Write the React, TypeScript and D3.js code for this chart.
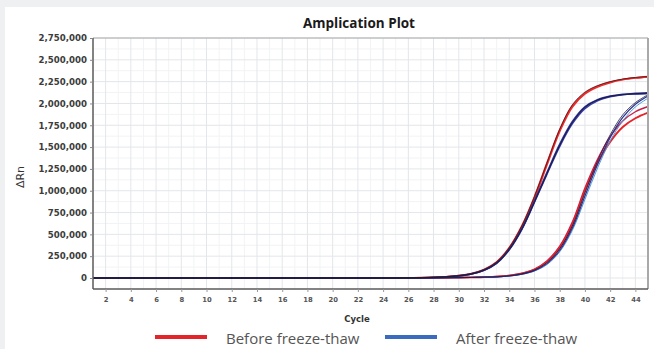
import * as d3 from "d3";
import React, { useEffect, useRef } from "react";

// cycles 1..45
const cycles = d3.range(1, 46);

// ΔRn values per cycle
const earlyBeforeA = [0,0,0,0,0,0,0,0,0,0,0,0,0,0,0,0,0,0,0,0,0,0,0,0,0,
    1000, 3000, 7000, 14000, 26000, 48000, 92000, 178000, 335000, 580000, 910000, 1300000, 1680000, 1960000, 2110000, 2190000, 2240000, 2272000, 2292000, 2306000];
const earlyBeforeB = [0,0,0,0,0,0,0,0,0,0,0,0,0,0,0,0,0,0,0,0,0,0,0,0,0,
    1000, 3000, 8000, 15000, 28000, 52000, 98000, 186000, 350000, 600000, 935000, 1325000, 1700000, 1975000, 2120000, 2198000, 2246000, 2276000, 2294000, 2304000];
const earlyDarkA = [0,0,0,0,0,0,0,0,0,0,0,0,0,0,0,0,0,0,0,0,0,0,0,0,0,
    1000, 3000, 7000, 14000, 27000, 50000, 96000, 184000, 348000, 598000, 932000, 1322000, 1705000, 1985000, 2130000, 2205000, 2250000, 2280000, 2298000, 2310000];
const earlyAfterA = [0,0,0,0,0,0,0,0,0,0,0,0,0,0,0,0,0,0,0,0,0,0,0,0,0,
    1000, 2000, 6000, 13000, 25000, 47000, 90000, 172000, 328000, 565000, 880000, 1210000, 1530000, 1790000, 1960000, 2042000, 2083000, 2104000, 2114000, 2120000];
const earlyAfterB = [0,0,0,0,0,0,0,0,0,0,0,0,0,0,0,0,0,0,0,0,0,0,0,0,0,
    1000, 2000, 6000, 12000, 24000, 45000, 88000, 168000, 322000, 555000, 865000, 1190000, 1505000, 1765000, 1940000, 2030000, 2075000, 2098000, 2108000, 2114000];
const earlyDarkB = [0,0,0,0,0,0,0,0,0,0,0,0,0,0,0,0,0,0,0,0,0,0,0,0,0,
    1000, 3000, 7000, 13000, 25000, 46000, 89000, 170000, 325000, 560000, 872000, 1200000, 1520000, 1780000, 1955000, 2040000, 2082000, 2102000, 2112000, 2118000];
const lateBeforeA = [0,0,0,0,0,0,0,0,0,0,0,0,0,0,0,0,0,0,0,0,0,0,0,0,0,
    0, 1000, 2000, 3000, 5000, 7000, 10000, 15000, 27000, 50000, 95000, 185000, 345000, 610000, 1000000, 1320000, 1560000, 1730000, 1830000, 1895000];
const lateBeforeB = [0,0,0,0,0,0,0,0,0,0,0,0,0,0,0,0,0,0,0,0,0,0,0,0,0,
    0, 1000, 2000, 3000, 5000, 7000, 11000, 17000, 30000, 55000, 102000, 198000, 365000, 640000, 1030000, 1360000, 1620000, 1800000, 1905000, 1965000];
const lateAfterA = [0,0,0,0,0,0,0,0,0,0,0,0,0,0,0,0,0,0,0,0,0,0,0,0,0,
    0, 1000, 2000, 3000, 4000, 6000, 9000, 13000, 23000, 44000, 85000, 165000, 315000, 570000, 940000, 1300000, 1610000, 1840000, 1990000, 2085000];
const lateAfterB = [0,0,0,0,0,0,0,0,0,0,0,0,0,0,0,0,0,0,0,0,0,0,0,0,0,
    0, 1000, 2000, 3000, 4000, 6000, 9000, 13000, 22000, 42000, 80000, 155000, 300000, 545000, 900000, 1260000, 1570000, 1800000, 1960000, 2060000];
const lateDark = [0,0,0,0,0,0,0,0,0,0,0,0,0,0,0,0,0,0,0,0,0,0,0,0,0,
    0, 1000, 2000, 3000, 5000, 7000, 10000, 15000, 26000, 48000, 92000, 178000, 335000, 595000, 975000, 1340000, 1640000, 1870000, 2010000, 2100000];

const yTicks = [0, 250000, 500000, 750000, 1000000, 1250000, 1500000, 1750000, 2000000, 2250000, 2500000, 2750000];
const xTicks = d3.range(2, 45, 2);
const legendLabels = ["Before freeze-thaw", "After freeze-thaw"];

const RED = "#e5232a";
const NAVY = "#2d3193";

const App = () => {
    const svgRef = useRef<SVGSVGElement | null>(null);

    useEffect(() => {
        const width = 654;
        const height = 349;
        const left = 93, right = 648, top = 38, bottom = 289;

        const svg = d3.select(svgRef.current);
        svg.selectAll("*").remove();

        // page frame
        svg.append("rect").attr("width", width).attr("height", height).attr("fill", "#eef0f2");
        svg.append("rect").attr("x", 5).attr("y", 7).attr("width", width - 5).attr("height", height - 7).attr("fill", "#ffffff");

        const x = d3.scaleLinear().domain([1, 45]).range([left, right]);
        const y = d3.scaleLinear().domain([-126000, 2750000]).range([bottom, top]);

        // grid
        const grid = svg.append("g");
        grid.selectAll(".vminor")
            .data(d3.range(3, 45, 2))
            .enter().append("line")
            .attr("x1", d => x(d)).attr("x2", d => x(d))
            .attr("y1", top).attr("y2", bottom)
            .attr("stroke", "#f2f3f5").attr("stroke-width", 1);
        grid.selectAll(".hminor")
            .data(yTicks.map(d => d + 125000).filter(d => d < 2750000))
            .enter().append("line")
            .attr("x1", left).attr("x2", right)
            .attr("y1", d => y(d)).attr("y2", d => y(d))
            .attr("stroke", "#f2f3f5").attr("stroke-width", 1);
        grid.selectAll(".vmajor")
            .data(xTicks)
            .enter().append("line")
            .attr("x1", d => x(d)).attr("x2", d => x(d))
            .attr("y1", top).attr("y2", bottom)
            .attr("stroke", "#e3e6ea").attr("stroke-width", 1);
        grid.selectAll(".hmajor")
            .data(yTicks)
            .enter().append("line")
            .attr("x1", left).attr("x2", right)
            .attr("y1", d => y(d)).attr("y2", d => y(d))
            .attr("stroke", "#e3e6ea").attr("stroke-width", 1);

        // curves: reds first, blues over them, thin dark traces last
        const series = [
            { values: lateBeforeB, color: "#c8204a", w: 1.4 },
            { values: lateBeforeA, color: RED, w: 1.9 },
            { values: earlyBeforeB, color: RED, w: 1.5 },
            { values: earlyBeforeA, color: "#ee2b2b", w: 1.8 },
            { values: lateAfterB, color: "#4f9bd8", w: 1 },
            { values: lateAfterA, color: NAVY, w: 1.2 },
            { values: earlyAfterB, color: "#3a3fa8", w: 1.4 },
            { values: earlyAfterA, color: NAVY, w: 1.8 },
            { values: lateDark, color: "#1d1d3a", w: 0.8 },
            { values: earlyDarkB, color: "#151530", w: 0.8 },
            { values: earlyDarkA, color: "#2a1a1a", w: 0.7 },
        ];

        const line = d3.line<number>()
            .x((_, i) => x(cycles[i]))
            .y(d => y(d))
            .curve(d3.curveCatmullRom.alpha(0.5));

        svg.append("g")
            .selectAll("path")
            .data(series)
            .enter().append("path")
            .attr("d", d => line(d.values))
            .attr("fill", "none")
            .attr("stroke", d => d.color)
            .attr("stroke-width", d => d.w);

        // frame
        svg.append("line").attr("x1", left).attr("x2", right).attr("y1", top).attr("y2", top)
            .attr("stroke", "#a9a9a9").attr("stroke-width", 1);
        svg.append("line").attr("x1", right).attr("x2", right).attr("y1", top).attr("y2", bottom)
            .attr("stroke", "#a9a9a9").attr("stroke-width", 2);

        // y axis
        const yAxis = svg.append("g").attr("transform", `translate(${left},0)`)
            .call(d3.axisLeft(y).tickValues(yTicks).tickSize(3).tickPadding(3).tickFormat(d3.format(",")));
        yAxis.select(".domain").attr("stroke", "#5a5a5a").attr("stroke-width", 1.5)
            .attr("d", `M0,${top}V${bottom}`);
        yAxis.selectAll(".tick line").attr("stroke", "#888");
        yAxis.selectAll(".tick text")
            .attr("font-family", "DejaVu Sans")
            .attr("font-weight", "bold")
            .attr("font-size", 8.6)
            .attr("fill", "#3c3c3c");

        // x axis
        const xAxis = svg.append("g").attr("transform", `translate(0,${bottom})`)
            .call(d3.axisBottom(x).tickValues(xTicks).tickSize(3).tickPadding(5).tickFormat(d3.format("d")));
        xAxis.select(".domain").attr("stroke", "#5a5a5a").attr("stroke-width", 1.5)
            .attr("d", `M${left},0H${right}`);
        xAxis.selectAll(".tick line").attr("stroke", "#999");
        xAxis.selectAll(".tick text")
            .attr("font-family", "DejaVu Sans")
            .attr("font-weight", "bold")
            .attr("font-size", 6.8)
            .attr("fill", "#555");

        // titles
        svg.append("text").attr("x", 359).attr("y", 28).attr("text-anchor", "middle")
            .attr("font-family", "Open Sans").attr("font-weight", "bold").attr("font-size", 13.5)
            .attr("fill", "#1a1a1a").text("Amplication Plot");
        svg.append("text").attr("x", 357).attr("y", 322).attr("text-anchor", "middle")
            .attr("font-family", "DejaVu Sans").attr("font-weight", "bold").attr("font-size", 8.5)
            .attr("fill", "#333").text("Cycle");
        svg.append("text").attr("transform", "translate(24,177) rotate(-90)").attr("text-anchor", "middle")
            .attr("font-family", "DejaVu Sans").attr("font-size", 11)
            .attr("fill", "#333").text("ΔRn");

        // legend
        const legend = svg.append("g");
        const legendX = [155, 385];
        const legendColors = [RED, "#3a6bbf"];
        legendLabels.forEach((label, i) => {
            legend.append("line")
                .attr("x1", legendX[i]).attr("x2", legendX[i] + 52)
                .attr("y1", 337).attr("y2", 337)
                .attr("stroke", legendColors[i]).attr("stroke-width", 4);
            legend.append("text")
                .attr("x", legendX[i] + 71).attr("y", 344)
                .attr("font-family", "Open Sans").attr("font-size", 15)
                .attr("fill", "#555").text(label);
        });
    }, []);

    return (
        <svg ref={svgRef} width={654} height={349}
            style={{ position: "absolute", left: 0, top: 0, display: "block" }} />
    );
};

export default App;
